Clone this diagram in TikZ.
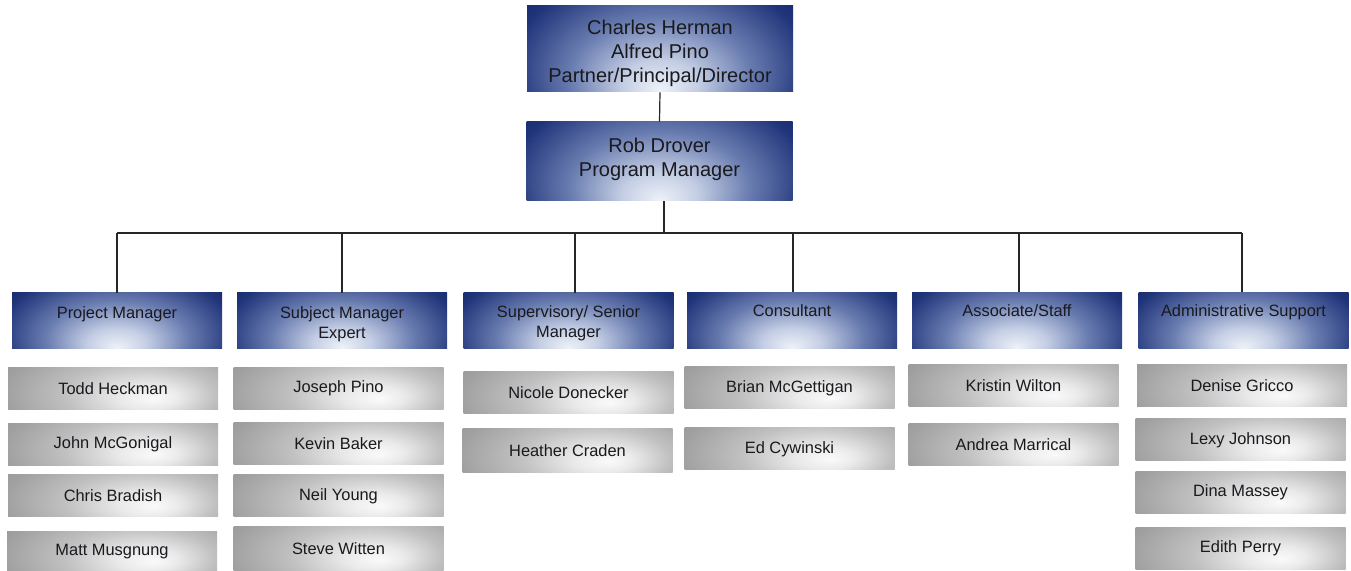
\documentclass[tikz,border=0pt]{standalone}
\usepackage{fontspec}
\setmainfont{Liberation Sans}
\definecolor{navy}{RGB}{8,26,90}
\definecolor{navyB}{RGB}{32,52,122}
\definecolor{navymid}{RGB}{105,124,176}
\definecolor{navylite}{RGB}{196,206,228}
\definecolor{glow}{RGB}{238,242,248}
\definecolor{grayA}{RGB}{140,140,140}
\definecolor{grayB}{RGB}{160,160,160}
\definecolor{grayC}{RGB}{192,192,192}
\definecolor{grayD}{RGB}{234,234,234}
\definecolor{grayE}{RGB}{250,250,250}
\definecolor{ink}{RGB}{25,25,30}
\pgfdeclareradialshading{navyglow}{\pgfpoint{0bp}{-12bp}}{color(0bp)=(glow); color(7bp)=(navylite); color(17bp)=(navymid); color(28bp)=(navyB); color(38bp)=(navy); color(50bp)=(navy)}
\pgfdeclareradialshading{grayglow}{\pgfpoint{10bp}{-6bp}}{color(0bp)=(grayE); color(7bp)=(grayD); color(18bp)=(grayC); color(30bp)=(grayB); color(42bp)=(grayA); color(50bp)=(grayA)}
\tikzset{
  glowfill/.style 2 args={path picture={\shade[shading=#1] ([yshift=#2]path picture bounding box.north west) rectangle ([yshift=-#2]path picture bounding box.south east);}},
  topbox/.style={glowfill={navyglow}{21pt}, draw=none, minimum width=133pt, inner sep=0pt, align=center, text=ink, font=\fontsize{10}{12}\selectfont},
  hdrbox/.style={glowfill={navyglow}{14pt}, draw=none, minimum width=105pt, minimum height=28pt, inner sep=0pt},
  hdrtext/.style={anchor=north, inner sep=0pt, align=center, text=ink, font=\fontsize{8.2}{10}\selectfont},
  namebox/.style={glowfill={grayglow}{10.5pt}, draw=none, minimum width=105pt, minimum height=21pt, inner sep=0pt, text=ink, font=\fontsize{8.2}{10}\selectfont},
  wire/.style={draw=black!85, line width=0.6pt}
}
\begin{document}
\begin{tikzpicture}[x=0.5pt, y=-0.5pt]
\useasboundingbox (0,0) rectangle (1351,571);
% top boxes
\node[topbox, minimum height=43pt] (dir) at (660,49) {\rule{0pt}{12pt}Charles Herman\\Alfred Pino\\Partner/Principal/Director};
\node[topbox, minimum height=39.5pt] (pm) at (659.5,161.5) {Rob Drover\\Program Manager\rule[-4.6pt]{0pt}{0pt}};
\draw[wire] (dir.south) -- (pm.north);
\coordinate (bus) at (664,233);
\coordinate (busL) at (117,233);
\coordinate (busR) at (1242,233);
\draw[wire] (bus |- pm.south) -- (bus);
\draw[wire] (busL) -- (busR);
% headers
\node[hdrbox] (h1) at (117,321) {};
\node[hdrbox] (h2) at (342,321) {};
\node[hdrbox] (h3) at (568.5,321) {};
\node[hdrbox] (h4) at (792,320.5) {};
\node[hdrbox] (h5) at (1017,320.5) {};
\node[hdrbox] (h6) at (1243.5,320.5) {};
\node[hdrtext] (t1) at ([yshift=-7pt]h1.north) {Project Manager};
\node[hdrtext] (t2) at ([yshift=-7pt]h2.north) {Subject Manager\\Expert};
\node[hdrtext] (t3) at ([yshift=-6.5pt]h3.north) {Supervisory/ Senior\\Manager};
\node[hdrtext] (t4) at ([yshift=-6pt]h4.north) {Consultant};
\node[hdrtext] (t5) at ([yshift=-6pt]h5.north) {Associate/Staff};
\node[hdrtext] (t6) at ([yshift=-6pt]h6.north) {Administrative Support};
% drops
\coordinate (d1) at (117,233);
\coordinate (d2) at (342,233);
\coordinate (d3) at (575,233);
\coordinate (d4) at (793,233);
\coordinate (d5) at (1019,233);
\coordinate (d6) at (1242,233);
\draw[wire] (d1) -- (d1 |- h1.north);
\draw[wire] (d2) -- (d2 |- h2.north);
\draw[wire] (d3) -- (d3 |- h3.north);
\draw[wire] (d4) -- (d4 |- h4.north);
\draw[wire] (d5) -- (d5 |- h5.north);
\draw[wire] (d6) -- (d6 |- h6.north);
% column 1
\node[namebox] (n11) at (113,388.5) {Todd Heckman};
\node[namebox] (n12) at (113,444.5) {John McGonigal};
\node[namebox] (n13) at (113,496) {Chris Bradish};
\node[namebox, minimum height=20pt] (n14) at (112,551.5) {Matt Musgnung};
% column 2
\node[namebox] (n21) at (338.5,388.5) {Joseph Pino};
\node[namebox] (n22) at (338.5,444) {Kevin Baker};
\node[namebox] (n23) at (338.5,496) {Neil Young};
\node[namebox, minimum height=22pt] (n24) at (338.5,549) {Steve Witten};
% column 3
\node[namebox] (n31) at (568.5,392.5) {Nicole Donecker};
\node[namebox, minimum height=22pt] (n32) at (567.5,451) {Heather Craden};
% column 4
\node[namebox] (n41) at (789.5,388) {Brian McGettigan};
\node[namebox] (n42) at (789.5,449) {Ed Cywinski};
% column 5
\node[namebox] (n51) at (1013.5,386) {Kristin Wilton};
\node[namebox] (n52) at (1013.5,444.5) {Andrea Marrical};
% column 6
\node[namebox] (n61) at (1242,386) {Denise Gricco};
\node[namebox] (n62) at (1240.5,440) {Lexy Johnson};
\node[namebox] (n63) at (1240.5,492.5) {Dina Massey};
\node[namebox] (n64) at (1240.5,548.5) {Edith Perry};
\end{tikzpicture}
\end{document}
